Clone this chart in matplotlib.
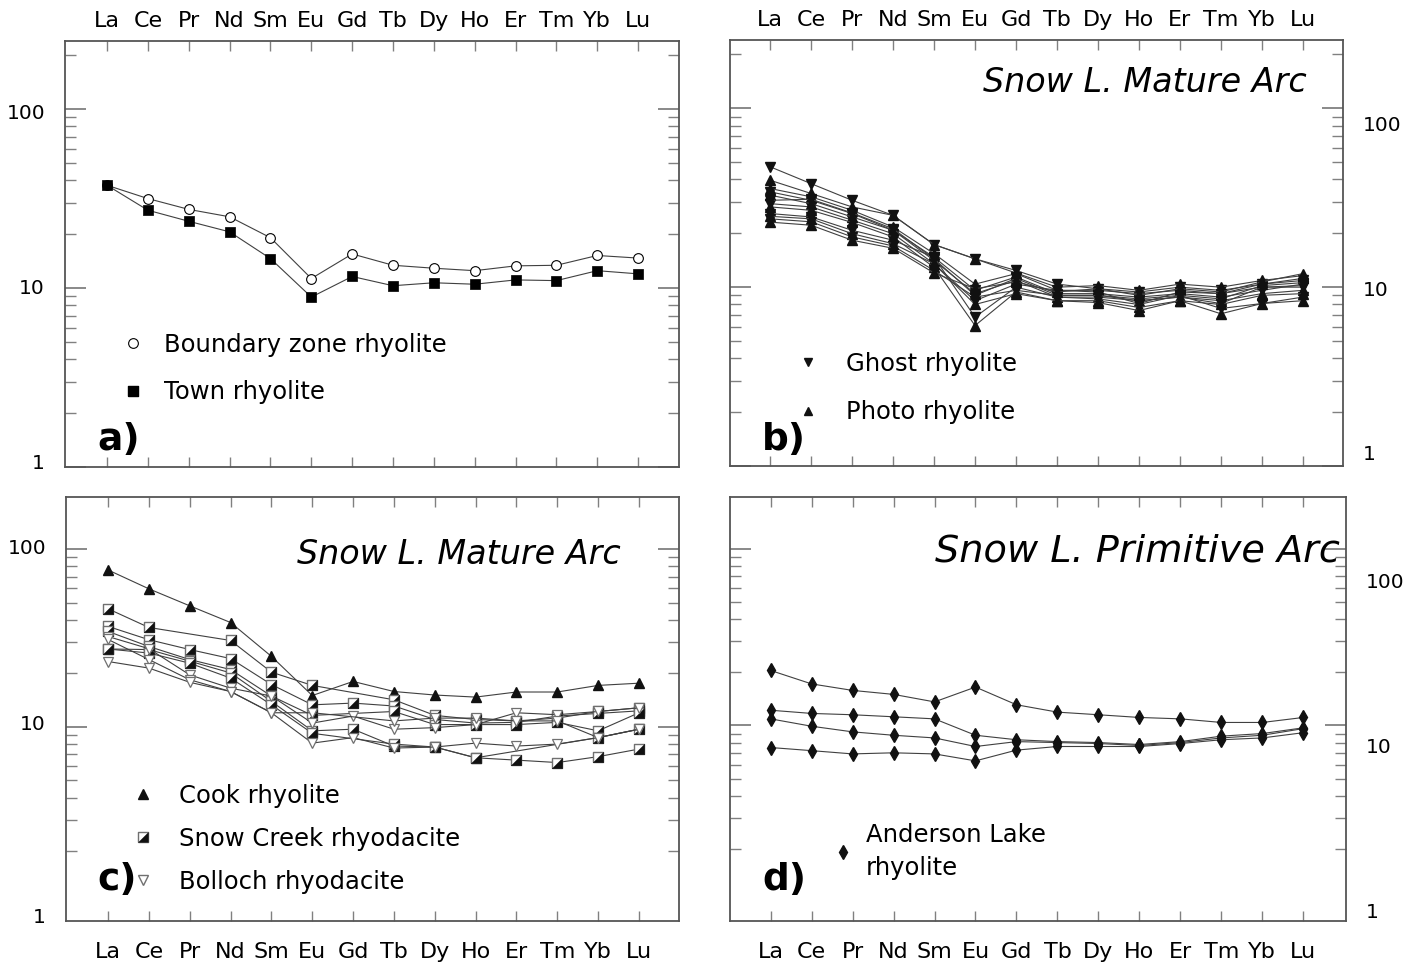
import numpy as np
import matplotlib
matplotlib.use('Agg')
import matplotlib.pyplot as plt
from matplotlib.lines import Line2D
from matplotlib.ticker import NullFormatter, FixedLocator

W, H = 1418, 965
nan = np.nan

elements = ['La', 'Ce', 'Pr', 'Nd', 'Sm', 'Eu', 'Gd', 'Tb', 'Dy', 'Ho', 'Er', 'Tm', 'Yb', 'Lu']

# a) boundary zone
boundary_zone = [37.5, 31.6, 27.5, 25.0, 19.1, 11.3, 15.5, 13.4, 12.9, 12.5, 13.3, 13.4, 15.2, 14.7]
town = [37.5, 27.2, 23.6, 20.6, 14.6, 8.9, 11.6, 10.3, 10.7, 10.5, 11.1, 11.0, 12.5, 12.0]

# b) mature arc, Ghost / Photo
ghost = [
    [47.1, 37.9, 30.6, 25.2, 17.3, 14.4, 12.4, 10.4, 9.8, 9.4, 10.0, 9.6, 10.4, 10.9],
    [34.1, 30.6, 25.8, 20.8, 14.7, 9.6, 11.4, 9.2, 9.2, 8.8, 9.2, 8.8, 9.6, 10.4],
    [29.3, 28.1, 23.7, 19.9, 13.5, 8.4, 10.4, 9.6, 9.4, 8.1, 9.4, 9.2, 10.0, 10.0],
    [25.8, 24.7, 20.8, 18.3, 14.7, 6.8, 10.0, 8.8, 8.6, 8.0, 9.0, 7.6, 8.1, 8.8],
    [24.1, 23.2, 19.1, 17.0, 12.4, 8.8, 9.6, 9.0, 9.0, 8.4, 8.8, 8.1, 10.0, 10.2],
    [30.6, 31.0, 26.0, 21.2, 14.4, 9.0, 11.2, 9.0, 9.0, 8.6, 9.0, 8.6, 10.2, 10.6],
]
photo = [
    [39.6, 33.4, 28.1, 25.2, 17.3, 14.4, 12.0, 10.0, 10.2, 9.6, 10.4, 10.0, 10.9, 11.6],
    [35.6, 32.0, 26.9, 21.7, 15.4, 10.4, 11.9, 9.6, 9.6, 9.2, 9.6, 9.2, 10.4, 11.2],
    [32.7, 29.3, 24.7, 20.8, 14.1, 9.2, 10.9, 8.8, 8.8, 8.4, 8.8, 8.4, 9.2, 9.6],
    [28.1, 26.9, 23.0, 19.1, 12.9, 6.1, 9.4, 8.4, 8.4, 7.7, 8.4, 7.1, 8.1, 8.4],
    [24.9, 24.1, 19.9, 17.5, 13.5, 8.0, 9.2, 8.4, 8.2, 7.4, 8.4, 8.0, 9.0, 9.2],
    [23.1, 22.2, 18.3, 16.5, 12.0, 9.8, 10.7, 9.4, 9.8, 9.0, 9.8, 9.4, 10.7, 11.9],
]

# c) mature arc, Cook / Snow Creek / Bolloch
cook = [76.2, 59.7, 47.9, 38.6, 24.9, 15.0, 18.0, 15.8, 15.1, 14.7, 15.7, 15.7, 17.1, 17.6]
snow_creek = [
    [46.1, 36.2, nan, 30.6, 20.3, 17.1, nan, 14.2, 11.6, 11.0, 10.8, 11.2, 12.2, 12.8],
    [36.7, 30.9, 27.2, 24.2, 17.3, 13.3, 13.6, 13.1, 11.0, 10.5, 10.6, 11.5, 11.9, 12.3],
    [34.4, 28.3, 23.9, 21.0, 14.9, 11.6, nan, 12.2, 10.3, 10.3, 10.3, 10.6, 9.5, 12.0],
    [27.4, 27.2, 23.4, 20.1, 13.9, 9.5, 9.7, 7.8, 7.7, 6.7, 6.5, 6.3, 6.8, 7.5],
    [27.4, 26.0, 22.8, 18.8, 13.3, 9.2, nan, 8.0, 7.7, 6.7, nan, nan, 8.7, 9.7],
]
bolloch = [
    [32.2, 27.5, 19.6, 16.5, 14.9, 10.5, 11.5, 9.7, 9.9, 10.3, 12.0, 11.7, 12.2, 12.8],
    [31.0, 23.9, 18.4, 15.8, 12.0, 12.0, nan, 10.8, 11.2, 11.2, 10.8, 10.8, 8.7, 9.7],
    [23.3, 21.4, 17.8, 15.8, 12.0, 8.1, 8.7, 7.6, 7.7, 8.1, 7.8, 8.0, 8.7, 9.7],
]

# d) primitive arc, Anderson Lake
anderson = [
    [20.5, 17.2, 15.8, 15.0, 13.6, 16.5, 13.1, 11.9, 11.5, 11.1, 10.9, 10.4, 10.4, 11.1],
    [12.2, 11.7, 11.5, 11.2, 10.9, 8.8, 8.3, 8.1, 8.0, 7.8, 8.1, 8.7, 9.0, 9.7],
    [10.9, 9.9, 9.2, 8.8, 8.5, 7.6, 8.1, 8.0, 7.9, 7.7, 8.0, 8.5, 8.8, 9.6],
    [7.5, 7.2, 6.9, 7.0, 6.9, 6.3, 7.25, 7.6, 7.6, 7.6, 7.9, 8.3, 8.5, 9.1],
]

x = np.arange(len(elements))
LINE = '#404040'
SQ = [(-1, -1), (1, -1), (1, 1), (-1, 1), (-1, -1)]
HALF = [(-1, -1), (1, -1), (1, 1), (-1, -1)]
MINORS = [2, 3, 4, 5, 6, 7, 8, 9, 20, 30, 40, 50, 60, 70, 80, 90, 200]

plt.rcParams['font.family'] = ['DejaVu Sans']
fig = plt.figure(figsize=(W / 100, H / 100), dpi=100)


def fpos(px, py):
    return (px / W, 1 - py / H)


def panel(l, t, r, b, xlim, ylim, xtop, majors):
    ax = fig.add_axes([l / W, 1 - b / H, (r - l) / W, (b - t) / H])
    ax.set_yscale('log')
    ax.set_xlim(xlim)
    ax.set_ylim(ylim)
    ax.set_xticks(x)
    ax.set_xticklabels(elements, fontsize=16)
    ax.yaxis.set_major_locator(FixedLocator(majors))
    ax.yaxis.set_minor_locator(FixedLocator(MINORS))
    ax.yaxis.set_major_formatter(NullFormatter())
    ax.yaxis.set_minor_formatter(NullFormatter())
    ax.tick_params(which='both', direction='in', top=True, right=True, color='#808080')
    ax.tick_params(axis='y', which='major', length=15, width=1.3)
    ax.tick_params(axis='y', which='minor', length=8, width=1)
    ax.tick_params(axis='x', length=7, width=1)
    if xtop:
        ax.tick_params(axis='x', labeltop=True, labelbottom=False, pad=7)
    else:
        ax.tick_params(axis='x', pad=15)
    for s in ax.spines.values():
        s.set_color('#555555')
        s.set_linewidth(1.3)
    return ax


def ylabels(ax, side, offsets):
    for val, dy in zip([100, 10, 1], offsets):
        if side == 'left':
            ax.annotate(str(val), xy=(0, val), xycoords=('axes fraction', 'data'),
                        xytext=(-20, -dy), textcoords='offset pixels',
                        ha='right', va='center', fontsize=14.5)
        else:
            ax.annotate(str(val), xy=(1, val), xycoords=('axes fraction', 'data'),
                        xytext=(20, -dy), textcoords='offset pixels',
                        ha='left', va='center', fontsize=14.5)


def series(ax, y, **kw):
    y = np.asarray(y, dtype=float)
    m = np.isfinite(y)
    ax.plot(x[m], y[m], color=LINE, lw=0.8, **kw)


def legend(ax, handles, labels, px, py, htp, spacing):
    leg = ax.legend(handles, labels, loc='upper left', bbox_to_anchor=fpos(px, py),
                    bbox_transform=fig.transFigure, frameon=False, fontsize=17.5,
                    handlelength=1.0, handletextpad=htp, labelspacing=spacing,
                    borderpad=0, borderaxespad=0)
    return leg


# ---- a)
ax = panel(65, 41, 679, 467, (-1.03, 14.0), (1, 240), True, [1, 10, 100])
series(ax, boundary_zone, marker='o', ms=7, mfc='white', mec='black', mew=0.8)
series(ax, town, marker=SQ, ms=7.5, mfc='black', mec='black', mew=0.5)
ylabels(ax, 'left', [4, 0, -4])
h = [Line2D([], [], ls='none', marker='o', ms=7, mfc='white', mec='black', mew=0.8),
     Line2D([], [], ls='none', marker=SQ, ms=7, mfc='black', mec='black')]
legend(ax, h, ['Boundary zone rhyolite', 'Town rhyolite'], 121, 333, 0.75, 0.95)
fig.text(*fpos(97, 440), 'a)', fontsize=27, fontweight='bold', ha='left', va='center')

# ---- b)
ax = panel(730, 40, 1343, 466, (-0.98, 13.98), (1.0, 241), True, [1, 10, 100])
for g, p in zip(ghost, photo):
    series(ax, g, marker='v', ms=7, mfc='#111111', mec='#111111')
    series(ax, p, marker='^', ms=7, mfc='#111111', mec='#111111')
ylabels(ax, 'right', [17, 3, -11])
h = [Line2D([], [], ls='none', marker='v', ms=6, color='#111111'),
     Line2D([], [], ls='none', marker='^', ms=6, color='#111111')]
legend(ax, h, ['Ghost rhyolite', 'Photo rhyolite'], 796, 352, 1.04, 1.0)
ax.text(*fpos(1307, 82), 'Snow L. Mature Arc', transform=fig.transFigure,
        fontsize=24, style='italic', ha='right', va='center')
fig.text(*fpos(762, 440), 'b)', fontsize=27, fontweight='bold', ha='left', va='center')

# ---- c)
ax = panel(66, 497, 679, 921, (-1.03, 13.98), (0.81, 196), False, [10, 100])
series(ax, cook, marker='^', ms=7.5, mfc='#111111', mec='#111111')
for s in snow_creek:
    series(ax, s, marker=SQ, ms=7.5, mfc='white', mec='#707070', mew=1)
    yy = np.asarray(s, dtype=float)
    ax.plot(x, yy, ls='none', marker=HALF, ms=7.5, mfc='#111111', mec='#111111', mew=0.3)
for s in bolloch:
    series(ax, s, marker='v', ms=7.5, mfc='white', mec='#707070', mew=0.9)
ylabels(ax, 'left', [0, -2, 13])
h = [Line2D([], [], ls='none', marker='^', ms=7, color='#111111'),
     (Line2D([], [], ls='none', marker=SQ, ms=7, mfc='white', mec='#707070'),
      Line2D([], [], ls='none', marker=HALF, ms=7, mfc='#111111', mec='#111111', mew=0.3)),
     Line2D([], [], ls='none', marker='v', ms=7, mfc='white', mec='#707070')]
legend(ax, h, ['Cook rhyolite', 'Snow Creek rhyodacite', 'Bolloch rhyodacite'],
       131, 784, 0.96, 0.78)
ax.text(*fpos(621, 555), 'Snow L. Mature Arc', transform=fig.transFigure,
        fontsize=24, style='italic', ha='right', va='center')
fig.text(*fpos(97, 880), 'c)', fontsize=27, fontweight='bold', ha='left', va='center')

# ---- d)
ax = panel(730, 497, 1346, 921, (-0.99, 14.04), (0.78, 197), False, [10, 100])
for s in anderson:
    series(ax, s, marker='d', ms=7, mfc='#111111', mec='#111111')
ylabels(ax, 'right', [34, 22, 11])
h = [Line2D([], [], ls='none', marker='d', ms=7, color='#111111')]
leg = legend(ax, h, ['Anderson Lake\nrhyolite'], 831, 823, 0.42, 0.5)
for t in leg.get_texts():
    t.set_linespacing(1.45)
ax.text(*fpos(1340, 552), 'Snow L. Primitive Arc', transform=fig.transFigure,
        fontsize=27.5, style='italic', ha='right', va='center')
fig.text(*fpos(762, 880), 'd)', fontsize=27, fontweight='bold', ha='left', va='center')

fig.savefig('out.png', dpi=100, facecolor='white')
